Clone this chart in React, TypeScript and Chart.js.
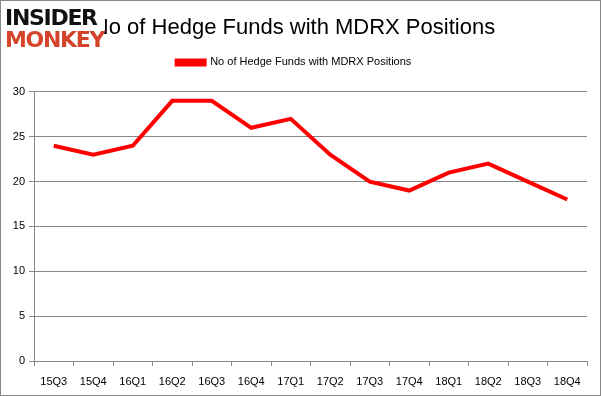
import React, { useEffect, useRef } from "react";
import { Chart, registerables } from "chart.js";

Chart.register(...registerables);

const categories = ["15Q3", "15Q4", "16Q1", "16Q2", "16Q3", "16Q4", "17Q1", "17Q2", "17Q3", "17Q4", "18Q1", "18Q2", "18Q3", "18Q4"];
const hedgeFunds = [24, 23, 24, 29, 29, 26, 27, 23, 20, 19, 21, 22, 20, 18];
const seriesName = "No of Hedge Funds with MDRX Positions";
const titleText = "No of Hedge Funds with MDRX Positions";

const legendSpacer = {
  id: "legendSpacer",
  beforeInit(chart: any) {
    const orig = chart.legend.fit;
    chart.legend.fit = function () {
      orig.call(this);
      this.height += 14;
    };
  },
};

export default function App() {
  const ref = useRef<HTMLCanvasElement>(null);
  useEffect(() => {
    document.body.style.margin = "0";
    const ctx = ref.current!;
    const chart = new Chart(ctx, {
      type: "line",
      data: {
        labels: categories,
        datasets: [
          {
            label: seriesName,
            data: hedgeFunds,
            borderColor: "#ff0000",
            backgroundColor: "#ff0000",
            borderWidth: 4,
            pointRadius: 0,
            tension: 0,
          },
        ],
      },
      plugins: [legendSpacer],
      options: {
        animation: false,
        responsive: false,
        layout: { padding: { left: 0, right: 13, top: 8, bottom: 0 } },
        plugins: {
          title: {
            display: true,
            text: titleText,
            color: "#000",
            font: { family: "Liberation Sans", size: 22, weight: "normal" },
            padding: { top: 6, bottom: 5.5 },
          },
          legend: {
            display: true,
            labels: {
              boxWidth: 28,
              boxHeight: 4,
              color: "#000",
              font: { family: "Liberation Sans", size: 11 },
              padding: 10,
            },
          },
          tooltip: { enabled: false },
        },
        scales: {
          x: {
            offset: true,
            afterFit: (s: any) => { s.height = 34; },
            grid: { display: true, drawOnChartArea: false, drawTicks: true, tickLength: 5, offset: true, color: "#888" },
            border: { color: "#888" },
            ticks: { color: "#000", font: { family: "Liberation Sans", size: 11 }, maxRotation: 0, padding: 9 },
          },
          y: {
            min: 0,
            max: 30,
            afterFit: (s: any) => { s.width = 33; },
            grid: { color: "#888", tickLength: 5 },
            border: { color: "#888" },
            ticks: { stepSize: 5, color: "#000", font: { family: "Liberation Sans", size: 11 }, padding: 4 },
          },
        },
      },
    });
    return () => chart.destroy();
  }, []);
  return (
    <div style={{ position: "relative", width: 601, height: 396, boxSizing: "border-box", border: "1px solid #888", background: "#fff" }}>
      <canvas ref={ref} width={599} height={394} style={{ display: "block" }} />
      <div style={{ position: "absolute", left: 4, top: 6, fontFamily: "DejaVu Sans", fontWeight: "bold", lineHeight: "22px", fontSize: 22, letterSpacing: -1.3, background: "#fff" }}>
        <div style={{ color: "#111" }}>INSIDER</div>
        <div style={{ color: "#d6432b" }}>MONKEY</div>
      </div>
    </div>
  );
}
